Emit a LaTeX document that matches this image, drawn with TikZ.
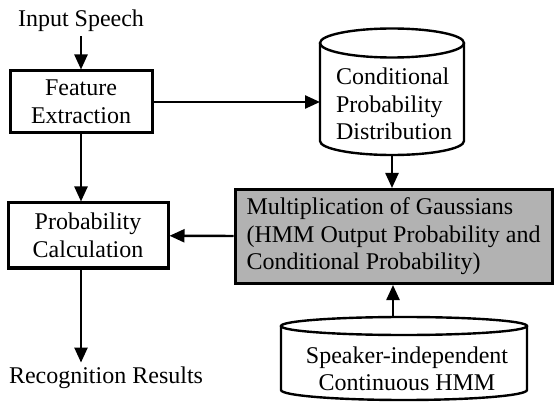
\documentclass[tikz,border=0pt]{standalone}
\usepackage{fontspec}
\setmainfont{Liberation Serif}
\usetikzlibrary{arrows.meta, positioning}
\tikzset{
  every picture/.style={font=\fontsize{24}{27.5}\selectfont, line width=2.4pt},
  box/.style={draw, line width=3pt, align=center, inner sep=0pt},
  storetext/.style={align=left, inner sep=0pt},
  arrow/.style={-{Triangle[length=15pt, width=13pt]}, line width=2.4pt},
}
\begin{document}
\begin{tikzpicture}[x=1pt, y=-1pt]
  \useasboundingbox (0,0) rectangle (557,406);
  % left column
  \node (speech) at (81,21) {Input Speech};
  \node[box, minimum width=142, minimum height=62] (feat) at (81,102) {Feature\\Extraction};
  \node[box, minimum width=160, minimum height=65] (prob) at (88,235.5) {Probability\\Calculation};
  \node (result) at (106,378) {Recognition Results};
  % conditional probability store
  \node[storetext] (cond) at (394,104) {Conditional\\Probability\\Distribution};
  \draw (320,43) -- (320,141) arc[start angle=180, end angle=360, x radius=72pt, y radius=14pt] -- (464,43);
  \draw (392,43) ellipse [x radius=72pt, y radius=14.5pt];
  \coordinate (condL) at (320,43);
  \coordinate (condB) at (392,155);
  % gaussian product
  \node[box, fill=black!30, align=left, minimum width=317, minimum height=94] (mult) at (393.5,236.5) {Multiplication of Gaussians\\(HMM Output Probability and\\Conditional Probability)};
  % speaker-independent HMM store
  \node[storetext, align=center] (hmm) at (407,369) {Speaker-independent\\Continuous HMM};
  \draw (281,326) -- (281,390) arc[start angle=180, end angle=360, x radius=123pt, y radius=10pt] -- (527,326);
  \draw (404,326) ellipse [x radius=123pt, y radius=9pt];
  \coordinate (hmmT) at (393,317.5);
  % connectors
  \draw[arrow] (speech) -- (feat);
  \draw[arrow] (feat.south) -- (feat.south |- prob.north);
  \draw[arrow] (prob.south -| feat.south) -- (result.north -| feat.south);
  \draw[arrow] (feat.east) -- (feat.east -| condL);
  \draw[arrow] (condB) -- (condB |- mult.north);
  \draw[arrow] (hmmT) -- (hmmT |- mult.south);
  \draw[arrow] (mult) -- (prob);
\end{tikzpicture}
\end{document}
